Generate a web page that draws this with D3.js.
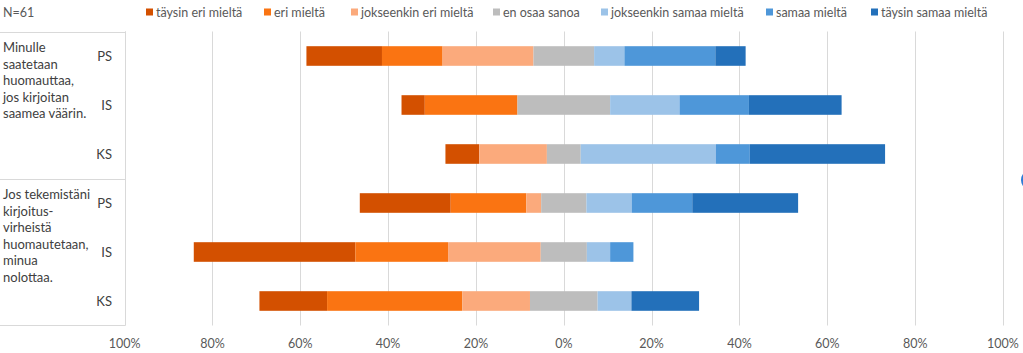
<!DOCTYPE html>
<html>
<head>
<meta charset="utf-8">
<script src="https://cdn.jsdelivr.net/npm/d3@7"></script>
<style>
  body { margin: 0; background: #fff; }
  svg { display: block; font-family: Lato, "Open Sans", sans-serif; }
</style>
</head>
<body>
<div id="chart"></div>
<script>
// Data (percent of respondents)
var rowLabels = ["PS", "IS", "KS", "PS", "IS", "KS"];
var questions = [
  ["Minulle", "saatetaan", "huomauttaa,", "jos kirjoitan", "saamea väärin."],
  ["Jos tekemistäni", "kirjoitus-", "virheistä", "huomautetaan,", "minua", "nolottaa."]
];
var seriesNames = ["täysin eri mieltä", "eri mieltä", "jokseenkin eri mieltä", "en osaa sanoa",
                   "jokseenkin samaa mieltä", "samaa mieltä", "täysin samaa mieltä"];
var seriesColors = ["#d35000", "#fa7412", "#fbaa7c", "#bdbdbd", "#9cc3e8", "#4e97d9", "#2370ba"];

var taysinEri   = [17.2, 5.3, 7.7, 20.7, 36.8, 15.4];
var eri         = [13.8, 21.1, 0, 17.2, 21.1, 30.8];
var jokseenEri  = [20.7, 0, 15.4, 3.4, 21.1, 15.4];
var enOsaa      = [13.8, 21.1, 7.7, 10.3, 10.5, 15.4];
var jokseenSama = [6.9, 15.8, 30.8, 10.3, 5.3, 7.7];
var samaa       = [20.7, 15.8, 7.7, 13.8, 5.3, 0];
var taysinSama  = [6.9, 21.1, 30.8, 24.1, 0, 15.4];

var tickValues = [-100, -80, -60, -40, -20, 0, 20, 40, 60, 80, 100];
var sampleNote = "N=61";

var allSeries = [taysinEri, eri, jokseenEri, enOsaa, jokseenSama, samaa, taysinSama];

// Layout
var W = 1023, H = 353;
var plotTop = 31.5, plotBottom = 325.5;
var tableRight = 125;

var svg = d3.select("#chart").append("svg")
    .attr("width", W)
    .attr("height", H);

var x = d3.scaleLinear()
    .domain([-100, 100])
    .range([124.6, 1003]);

var rowIds = rowLabels.map(function (d, i) { return "r" + i; });
var y = d3.scaleBand()
    .domain(rowIds)
    .range([plotTop, plotBottom])
    .paddingInner(0.6)
    .paddingOuter(0.3);

// Gridlines
svg.append("g")
  .selectAll("line")
  .data(tickValues)
  .enter().append("line")
    .attr("x1", function (d) { return Math.round(x(d)) + 0.5; })
    .attr("x2", function (d) { return Math.round(x(d)) + 0.5; })
    .attr("y1", plotTop)
    .attr("y2", plotBottom)
    .attr("stroke", "#d9d9d9")
    .attr("stroke-width", 1);

// Tick labels (absolute percentages)
svg.append("g")
  .selectAll("text")
  .data(tickValues)
  .enter().append("text")
    .attr("x", function (d) { return x(d); })
    .attr("y", 343)
    .attr("text-anchor", "middle")
    .attr("dominant-baseline", "central")
    .attr("fill", "#595959")
    .style("font-size", "12.5px")
    .text(function (d) { return Math.abs(d) + "%"; });

// Left category table lines
var table = svg.append("g").attr("stroke", "#d9d9d9").attr("stroke-width", 1);
var groupEdges = [plotTop, (y("r2") + y.bandwidth() + y("r3")) / 2, plotBottom - 1];
table.selectAll("line.h")
  .data(groupEdges)
  .enter().append("line")
    .attr("x1", 0).attr("x2", tableRight)
    .attr("y1", function (d) { return Math.round(d) + 0.5; })
    .attr("y2", function (d) { return Math.round(d) + 0.5; });
table.append("line")
    .attr("x1", tableRight + 0.5).attr("x2", tableRight + 0.5)
    .attr("y1", plotTop).attr("y2", plotBottom);

// Stacked diverging bars
var rows = rowIds.map(function (id, i) {
  var vals = allSeries.map(function (s) { return s[i]; });
  var start = -(vals[0] + vals[1] + vals[2] + vals[3] / 2);
  var segs = [];
  vals.forEach(function (v, k) {
    segs.push({ row: id, k: k, x0: start, x1: start + v });
    start += v;
  });
  return segs;
});

svg.append("g")
  .selectAll("g")
  .data(rows)
  .enter().append("g")
  .selectAll("rect")
  .data(function (d) { return d.filter(function (s) { return s.x1 > s.x0; }); })
  .enter().append("rect")
    .attr("x", function (d) { return x(d.x0); })
    .attr("width", function (d) { return x(d.x1) - x(d.x0); })
    .attr("y", function (d) { return y(d.row); })
    .attr("height", y.bandwidth())
    .attr("fill", function (d) { return seriesColors[d.k]; });

// Row labels (PS / IS / KS)
svg.append("g")
  .selectAll("text")
  .data(rowLabels)
  .enter().append("text")
    .attr("x", 112)
    .attr("y", function (d, i) { return y(rowIds[i]) + y.bandwidth() / 2; })
    .attr("text-anchor", "end")
    .attr("dominant-baseline", "central")
    .attr("fill", "#404040")
    .style("font-size", "13px")
    .text(function (d) { return d; });

// Question labels
questions.forEach(function (lines, g) {
  var firstRow = rowIds[g * 3];
  var top = y(firstRow) + y.bandwidth() / 2 - 9;
  svg.append("g")
    .selectAll("text")
    .data(lines)
    .enter().append("text")
      .attr("x", 3)
      .attr("y", function (d, i) { return top + i * 16.5; })
      .attr("dominant-baseline", "central")
      .attr("fill", "#404040")
      .style("font-size", "13px")
      .text(function (d) { return d; });
});

// Sample size note
svg.append("text")
    .attr("x", 3)
    .attr("y", 12)
    .attr("dominant-baseline", "central")
    .attr("fill", "#595959")
    .style("font-size", "12.5px")
    .text(sampleNote);

// Legend
var legendX = [146, 264, 351, 493, 601, 766, 871];
var legend = svg.append("g")
  .selectAll("g")
  .data(seriesNames)
  .enter().append("g")
    .attr("transform", function (d, i) { return "translate(" + legendX[i] + ",12)"; });
legend.append("rect")
    .attr("x", 0).attr("y", -3.5)
    .attr("width", 7).attr("height", 7)
    .attr("fill", function (d, i) { return seriesColors[i]; });
legend.append("text")
    .attr("x", 10)
    .attr("y", 0)
    .attr("dominant-baseline", "central")
    .attr("fill", "#595959")
    .style("font-size", "12.5px")
    .text(function (d) { return d; });

// Cut-off handle at right edge
svg.append("ellipse")
    .attr("cx", 1027).attr("cy", 180)
    .attr("rx", 6).attr("ry", 8)
    .attr("fill", "#2e7bd6");
</script>
</body>
</html>
